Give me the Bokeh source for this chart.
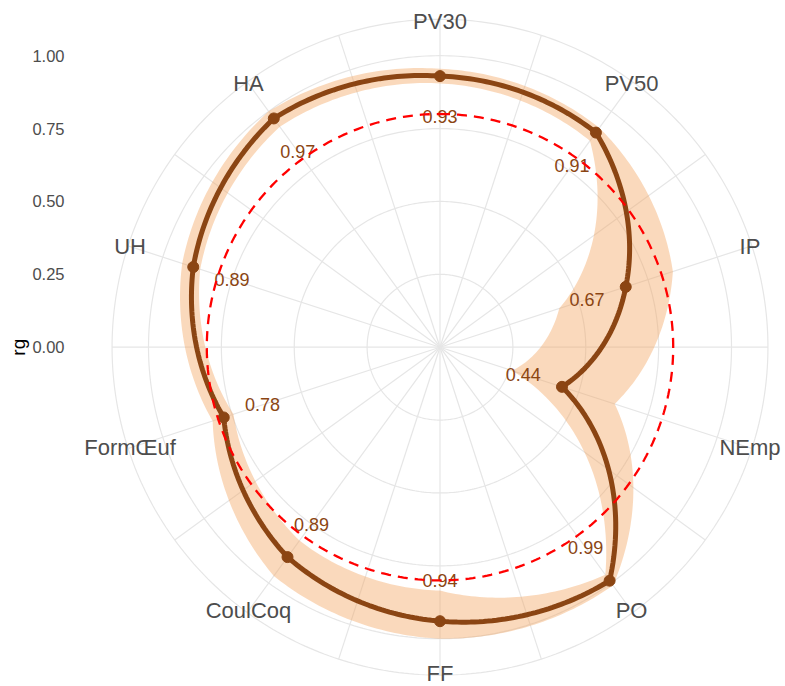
import numpy as np
from bokeh.plotting import figure
from bokeh.models import Range1d, ColumnDataSource
from bokeh.embed import file_html
from bokeh.resources import INLINE
from bokeh.core.properties import value

# ---------------- data ----------------
categories = ["PV30", "PV50", "IP", "NEmp", "PO", "FF", "CoulCoq", "FormŒuf", "UH", "HA"]
rg = [0.93, 0.91, 0.67, 0.44, 0.99, 0.94, 0.89, 0.78, 0.89, 0.97]
rg_lower = [0.905, 0.875, 0.43, 0.26, 0.965, 0.835, 0.82, 0.745, 0.865, 0.935]
rg_upper = [0.955, 0.93, 0.84, 0.63, 1.01, 1.0, 0.97, 0.82, 0.93, 1.0]
r_ticks = [0.0, 0.25, 0.50, 0.75, 1.00]
r_tick_labels = ["0.00", "0.25", "0.50", "0.75", "1.00"]
threshold = 0.8
y_title = "rg"

# ---------------- layout ----------------
W, H = 785, 686
S = 291.5                      # px per unit of rg
CX, CY = 439.5, 346.7          # centre of the polar panel (px in figure)
R_OUT = 1.125                  # outer edge of the polar panel (rg units)
R_LAB = 1.118                  # category labels radius
LAB_OFFSET = 0.14              # value labels sit inside the point
FONT = "Liberation Sans"
BROWN = "#8B4513"
GREY_TXT = "#4D4D4D"
GRID = "#E6E6E6"

K = len(categories)
theta = np.arange(K) * 2 * np.pi / K


def polar(r, th):
    r = np.asarray(r, dtype=float)
    th = np.asarray(th, dtype=float)
    return r * np.sin(th), r * np.cos(th)


def munch(vals, n=40):
    th, rr = [], []
    for i in range(K):
        a0, a1 = theta[i], theta[i] + 2 * np.pi / K
        v0, v1 = vals[i], vals[(i + 1) % K]
        t = np.linspace(0, 1, n, endpoint=False)
        th.extend(a0 + (a1 - a0) * t)
        rr.extend(v0 + (v1 - v0) * t)
    th.append(th[0])
    rr.append(rr[0])
    return polar(rr, th)


p = figure(width=W, height=H,
           x_range=Range1d(-CX / S, (W - CX) / S),
           y_range=Range1d(-(H - CY) / S, CY / S),
           x_axis_type=None, y_axis_type=None,
           output_backend="svg", toolbar_location=None, min_border=0)
p.grid.visible = False
p.outline_line_color = None
p.background_fill_color = "white"
p.border_fill_color = "white"

# grid circles
circ_xs, circ_ys = [], []
for r in list(r_ticks[1:]) + [R_OUT]:
    x, y = munch([r] * K)
    circ_xs.append(list(x))
    circ_ys.append(list(y))
p.multi_line(circ_xs, circ_ys, line_color=GRID, line_width=1.2)

# spokes (major at categories, minor halfway)
sp_th = np.arange(2 * K) * np.pi / K
sx, sy = polar([R_OUT] * (2 * K), sp_th)
p.segment(x0=np.zeros(2 * K), y0=np.zeros(2 * K), x1=sx, y1=sy,
          line_color=GRID, line_width=1.2)

# ribbon
ux, uy = munch(rg_upper)
lx, ly = munch(rg_lower)
p.multi_polygons(xs=[[[list(ux), list(lx[::-1])]]], ys=[[[list(uy), list(ly[::-1])]]],
                 fill_color="#F4A460", fill_alpha=0.42, line_color=None)

# line + points
mx, my = munch(rg)
p.line(mx, my, line_color=BROWN, line_width=5)
px, py = polar(rg, theta)
p.scatter(px, py, size=11, fill_color=BROWN, line_color=BROWN)

# value labels
vx, vy = polar(np.array(rg) - LAB_OFFSET, theta)
src_v = ColumnDataSource(dict(x=vx, y=vy, t=[f"{v:.2f}" for v in rg]))
p.text("x", "y", text="t", source=src_v, text_color=BROWN, text_font=value(FONT),
       text_font_size="18px", text_align="center", text_baseline="middle")

# threshold circle
tx, ty = munch([threshold] * K)
p.line(tx, ty, line_color="red", line_width=2.3, line_dash="10 7")

# category labels
cx_, cy_ = polar([R_LAB] * K, theta)
src_c = ColumnDataSource(dict(x=cx_, y=cy_, t=categories))
p.text("x", "y", text="t", source=src_c, text_color=GREY_TXT, text_font=value(FONT),
       text_font_size="22px", text_align="center", text_baseline="middle")

# radial axis labels (left)
tick_x = (64 - CX) / S
src_t = ColumnDataSource(dict(x=[tick_x] * len(r_ticks), y=r_ticks, t=r_tick_labels))
p.text("x", "y", text="t", source=src_t, text_color=GREY_TXT, text_font=value(FONT),
       text_font_size="16.5px", text_align="right", text_baseline="middle")

p.text(x=[(18.3 - CX) / S], y=[0.0], text=[y_title], angle=np.pi / 2,
       text_color="black", text_font=value(FONT), text_font_size="19px",
       text_align="center", text_baseline="middle")

open("out.html", "w").write(file_html(p, INLINE))
